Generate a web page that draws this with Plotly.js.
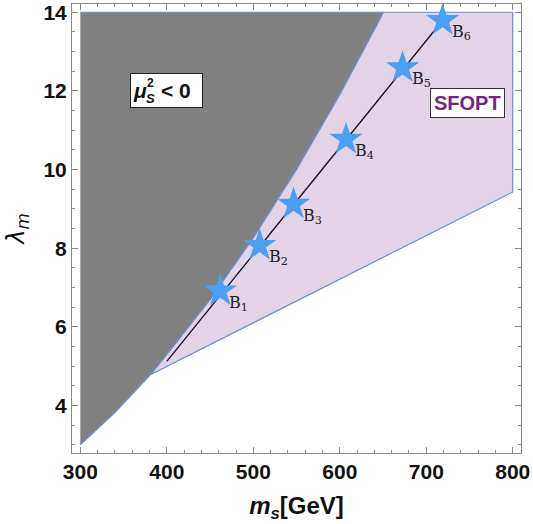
<!DOCTYPE html>
<html>
<head>
<meta charset="utf-8">
<script src="https://cdn.plot.ly/plotly-3.0.1.min.js"></script>
<style>html,body{margin:0;padding:0;background:#fff;}#chart{width:533px;height:524px;}</style>
</head>
<body>
<div id="chart"></div>
<script>
// boundary of mu_S^2 < 0 region
const edgeMs  = [300, 340, 381, 400, 450, 500, 550, 600, 650.6];
const edgeLam = [3.0, 3.82, 4.78, 5.29, 6.69, 8.26, 10.0, 11.9, 14.0];
// SFOPT region outer corners
const sfoptCornerMs  = [800, 800];
const sfoptCornerLam = [14.0, 9.43];
// benchmark points
const benchNames = ["B1", "B2", "B3", "B4", "B5", "B6"];
const benchMs  = [461.8, 507.3, 546.6, 607.2, 672.6, 718.8];
const benchLam = [6.91, 8.07, 9.12, 10.77, 12.59, 13.79];
// benchmark line
const lineMs  = [400, 718.8];
const lineLam = [5.12, 13.79];
const xTicks = [300, 400, 500, 600, 700, 800];
const yTicks = [4, 6, 8, 10, 12, 14];

const edgeColor = "#6a8fcf";
const sans = "Liberation Sans, Arial, sans-serif";

// gray region polygon
const grayX = edgeMs.concat([edgeMs[0]]);
const grayY = edgeLam.concat([edgeLam[edgeLam.length - 1]]);
// pink region polygon (from kink upward, then corners)
const kink = 2;
const pinkX = edgeMs.slice(kink).concat(sfoptCornerMs, [edgeMs[kink]]);
const pinkY = edgeLam.slice(kink).concat(sfoptCornerLam, [edgeLam[kink]]);

const traces = [
  {x: grayX, y: grayY, mode: "lines", fill: "toself", fillcolor: "#808080",
   line: {color: edgeColor, width: 1.2}, hoverinfo: "skip", showlegend: false},
  {x: pinkX, y: pinkY, mode: "lines", fill: "toself", fillcolor: "#e3d3e6",
   line: {color: edgeColor, width: 1.2}, hoverinfo: "skip", showlegend: false},
  {x: lineMs, y: lineLam, mode: "lines", line: {color: "#1a0d1a", width: 1.3},
   hoverinfo: "skip", showlegend: false},
  {x: benchMs, y: benchLam, mode: "markers",
   marker: {symbol: "star", size: 25, color: "#4a9ff2", line: {width: 0}},
   showlegend: false}
];

const annotations = benchNames.map((n, i) => ({
  x: benchMs[i], y: benchLam[i], xref: "x", yref: "y",
  text: "B<sub>" + n.slice(1) + "</sub>", showarrow: false,
  xanchor: "left", yanchor: "middle", xshift: 7, yshift: -12,
  font: {family: "DejaVu Serif, Liberation Serif, serif", size: 16, color: "#222"}
}));
// mu_S^2 < 0 box
const muX = 400, muY = 12.0;
annotations.push({
  x: muX, y: muY, xref: "x", yref: "y", showarrow: false, text: " ",
  width: 71, height: 33, bgcolor: "#ffffff", bordercolor: "#222", borderwidth: 1, borderpad: 0
});
annotations.push({x: muX, y: muY, xref: "x", yref: "y", showarrow: false,
  text: "<b><i>μ</i></b>", xshift: -27, yshift: 0,
  font: {family: sans, size: 21, color: "#111"}});
annotations.push({x: muX, y: muY, xref: "x", yref: "y", showarrow: false,
  text: "<b>2</b>", xshift: -16, yshift: 8,
  font: {family: sans, size: 12, color: "#111"}});
annotations.push({x: muX, y: muY, xref: "x", yref: "y", showarrow: false,
  text: "<b><i>S</i></b>", xshift: -16, yshift: -8,
  font: {family: sans, size: 13, color: "#111"}});
annotations.push({x: muX, y: muY, xref: "x", yref: "y", showarrow: false,
  text: "<b>&lt; 0</b>", xshift: 9, yshift: 0,
  font: {family: sans, size: 21, color: "#111"}});
annotations.push({
  x: 748, y: 11.7, xref: "x", yref: "y", showarrow: false,
  text: "<b>SFOPT</b>",
  font: {family: sans, size: 20, color: "#7a1f83"},
  bgcolor: "#ffffff", bordercolor: "#333", borderwidth: 1, borderpad: 3
});

const axisCommon = {
  showgrid: false, zeroline: false, showline: true, linecolor: "#8a8a8a", linewidth: 1,
  mirror: "allticks", ticks: "inside", ticklen: 6, tickcolor: "#8a8a8a", tickwidth: 1,
  tickfont: {family: sans, size: 21, color: "#111", weight: "bold"}
};

const layout = {
  width: 533, height: 524,
  margin: {l: 72, r: 12, t: 4, b: 71},
  paper_bgcolor: "#ffffff", plot_bgcolor: "#ffffff",
  xaxis: Object.assign({}, axisCommon, {
    range: [290.4, 809.5], tickvals: xTicks, ticktext: xTicks.map(String),
    minor: {dtick: 20, ticks: "inside", ticklen: 3, tickcolor: "#8a8a8a"},
    title: {text: "<b><i>m<sub>s</sub></i>[GeV]</b>", standoff: 14,
      font: {family: sans, size: 24, color: "#111"}}
  }),
  yaxis: Object.assign({}, axisCommon, {
    range: [2.79, 14.21], tickvals: yTicks, ticktext: yTicks.map(String),
    minor: {dtick: 0.5, ticks: "inside", ticklen: 3, tickcolor: "#8a8a8a"},
    title: {text: "<i>λ<sub>m</sub></i>", standoff: 12,
      font: {family: "DejaVu Sans, Liberation Sans, sans-serif", size: 24, color: "#111"}}
  }),
  annotations: annotations
};

Plotly.newPlot("chart", traces, layout, {displayModeBar: false, staticPlot: true});
</script>
</body>
</html>
